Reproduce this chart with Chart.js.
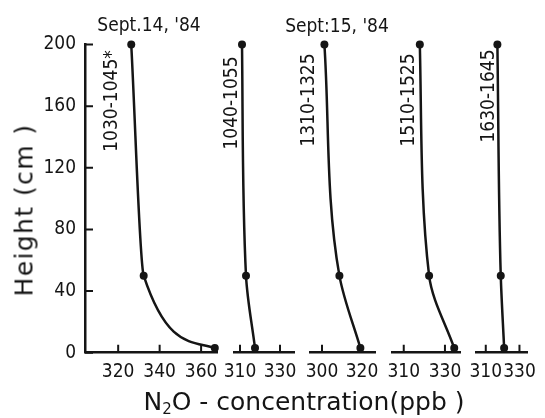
<!DOCTYPE html>
<html lang="en">
<head>
  <meta charset="UTF-8" />
  <title>N2O concentration profiles</title>
  <script src="https://cdn.jsdelivr.net/npm/chart.js@4/dist/chart.umd.min.js"></script>
  <style>
    body {
      margin: 0;
      background: #fff;
    }
    #wrap {
      position: relative;
      width: 545px;
      height: 418px;
      overflow: hidden;
      color: #151515;
      font-family: 'DejaVu Sans Condensed', 'DejaVu Sans', sans-serif;
    }
    #wrap canvas {
      position: absolute;
      left: 0;
      top: 0;
    }
    .txt {
      position: absolute;
      white-space: nowrap;
      line-height: 1;
      transform: translate(-50%, -50%);
    }
    .rot {
      transform: translate(-50%, -50%) rotate(-90deg);
    }
    .period { font-size: 19px; }
    .day { font-size: 19px; }
    .axis-title {
      font-family: 'DejaVu Sans', sans-serif;
      font-size: 25px;
    }
    .ytitle { letter-spacing: 1.4px; }
    .axis-title sub { font-size: 15px; vertical-align: -4px; }
  </style>
</head>
<body>
  <div id="wrap"></div>

  <script>
    // heights of the three sampling levels (cm), top to bottom
    const heights = [200, 50, 3];

    // N2O concentration (ppb) at those heights, one list per sampling period
    const conc1030 = [326.3, 332.3, 366.6];
    const conc1040 = [311.0, 313.0, 317.5];
    const conc1310 = [301.2, 308.7, 319.2];
    const conc1510 = [317.8, 322.3, 334.5];
    const conc1630 = [316.9, 318.9, 320.9];

    const periods = ['1030-1045*', '1040-1055', '1310-1325', '1510-1525', '1630-1645'];
    const days = ["Sept.14, '84", "Sept:15, '84"];

    const yTicks = [0, 40, 80, 120, 160, 200];
    const xTicks1 = [320, 340, 360];
    const xTicks2 = [310, 330];
    const xTicks3 = [300, 320];
    const xTicks4 = [310, 330];
    const xTicks5 = [310, 330];

    const ink = '#151515';
    const W = 545, H = 418;
    const plotTop = 44.5, plotBottom = 352.7;

    // panel layout: pixel extent of each small axis, its value range,
    // and the axis the smoothing follows (the first profile bends much harder)
    const panels = [
      { data: conc1030, ticks: xTicks1, min: 304,   max: 368,   left: 85,  right: 217.7, yAxis: true, along: 'x' },
      { data: conc1040, ticks: xTicks2, min: 307,   max: 337,   left: 234, right: 294, along: 'y' },
      { data: conc1310, ticks: xTicks3, min: 294,   max: 326.5, left: 310, right: 375, along: 'y' },
      { data: conc1510, ticks: xTicks4, min: 304.3, max: 337.3, left: 392, right: 460, along: 'y' },
      { data: conc1630, ticks: xTicks5, min: 304.2, max: 334.7, left: 476, right: 537, along: 'y' }
    ];

    // text placement (centres, px)
    const periodPos = [[110, 101], [230, 103], [307, 100], [407, 100], [487, 96]];
    const dayPos = [[149, 24], [337, 25]];

    const wrap = document.getElementById('wrap');

    // short tick marks pointing into the plot
    const innerTicks = {
      id: 'innerTicks',
      beforeDatasetsDraw(chart) {
        const { ctx, chartArea: a, scales: { x, y } } = chart;
        ctx.save();
        ctx.strokeStyle = ink;
        ctx.lineWidth = 2;
        ctx.beginPath();
        x.ticks.forEach(t => {
          const px = x.getPixelForValue(t.value);
          ctx.moveTo(px, a.bottom);
          ctx.lineTo(px, a.bottom - 8);
        });
        if (y.options.display) {
          y.ticks.forEach(t => {
            const py = y.getPixelForValue(t.value);
            ctx.moveTo(a.left, py);
            ctx.lineTo(a.left + 8, py);
          });
        }
        ctx.stroke();
        ctx.restore();
      }
    };

    const tickFont = { family: "'DejaVu Sans Condensed', 'DejaVu Sans', sans-serif", size: 19 };

    panels.forEach(p => {
      const canvas = document.createElement('canvas');
      canvas.width = W;
      canvas.height = H;
      wrap.appendChild(canvas);

      new Chart(canvas.getContext('2d'), {
        type: 'line',
        data: {
          datasets: [{
            data: heights.map((h, i) => ({ x: p.data[i], y: h })),
            borderColor: ink,
            borderWidth: 2.5,
            backgroundColor: ink,
            pointRadius: 4,
            pointBorderWidth: 0,
            pointBackgroundColor: ink,
            cubicInterpolationMode: 'monotone',
            clip: false,
            fill: false
          }]
        },
        options: {
          responsive: false,
          animation: false,
          indexAxis: p.along,
          layout: {
            padding: {
              left: p.yAxis ? 0 : p.left,
              right: W - p.right,
              top: plotTop,
              bottom: 0
            }
          },
          plugins: { legend: { display: false }, tooltip: { enabled: false } },
          scales: {
            x: {
              type: 'linear',
              min: p.min,
              max: p.max,
              afterBuildTicks: s => { s.ticks = p.ticks.map(v => ({ value: v })); },
              afterFit: s => { s.height = H - plotBottom; },
              grid: { display: false, drawTicks: false },
              border: { display: true, color: ink, width: 2.5 },
              ticks: { color: ink, font: tickFont, padding: 8, maxRotation: 0 }
            },
            y: {
              type: 'linear',
              display: !!p.yAxis,
              min: 0,
              max: 200,
              afterBuildTicks: s => { s.ticks = yTicks.map(v => ({ value: v })); },
              afterFit: s => { if (p.yAxis) s.width = p.left; },
              grid: { display: false, drawTicks: false },
              border: { display: true, color: ink, width: 2.5 },
              ticks: { color: ink, font: tickFont, padding: 9 }
            }
          }
        },
        plugins: [innerTicks]
      });
    });

    function addText(html, x, y, cls) {
      const d = document.createElement('div');
      d.className = 'txt ' + cls;
      d.style.left = x + 'px';
      d.style.top = y + 'px';
      d.innerHTML = html;
      wrap.appendChild(d);
    }

    periods.forEach((t, i) => addText(t, periodPos[i][0], periodPos[i][1], 'rot period'));
    days.forEach((t, i) => addText(t, dayPos[i][0], dayPos[i][1], 'day'));

    addText('Height (cm )', 24, 210, 'rot axis-title ytitle');
    addText('N<sub>2</sub>O - concentration(ppb )', 304, 403, 'axis-title');
  </script>
</body>
</html>
